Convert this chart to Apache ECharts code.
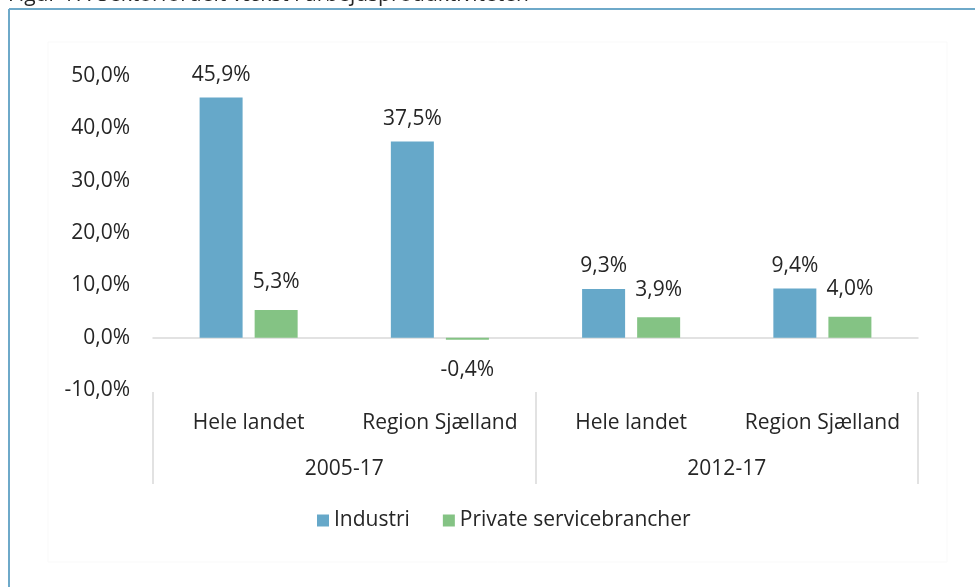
<!DOCTYPE html>
<html><head><meta charset="utf-8">
<script src="https://cdn.jsdelivr.net/npm/echarts@6/dist/echarts.min.js"></script>
<style>html,body{margin:0;padding:0;background:#fff}#c{width:975px;height:587px}</style>
</head><body><div id="c"></div>
<script>
const titleText = "Figur 17. Sektorfordelt vækst i arbejdsproduktiviteten";
const regions = ["Hele landet", "Region Sjælland", "Hele landet", "Region Sjælland"];
const periods = ["2005-17", "2012-17"];
const seriesNames = ["Industri", "Private servicebrancher"];
const industri = [45.9, 37.5, 9.3, 9.4];
const service = [5.3, -0.4, 3.9, 4.0];
const yTicks = [-10, 0, 10, 20, 30, 40, 50];

const FONT = "'Open Sans', 'DejaVu Sans', sans-serif";
const TXT = '#262626';
const FS = 21;
const fmt = v => v.toFixed(1).replace('.', ',') + '%';

const chart = echarts.init(document.getElementById('c'), null, {renderer: 'canvas'});
const mk = (arr) => arr.map(v => ({value: v, label: {position: v < 0 ? 'bottom' : 'top', distance: v < 0 ? 20 : undefined}}));
chart.setOption({
  animation: false,
  textStyle: {fontFamily: FONT},
  graphic: [
    {type: 'text', x: 8, y: 6, style: {text: titleText, font: "21px " + FONT, fill: TXT, verticalAlign: 'bottom', align: 'left'}},
    {type: 'line', shape: {x1: 9, y1: 9, x2: 975, y2: 9}, style: {stroke: '#6ea9c9', lineWidth: 2}},
    {type: 'line', shape: {x1: 9, y1: 9, x2: 9, y2: 587}, style: {stroke: '#6ea9c9', lineWidth: 2}},
    {type: 'rect', shape: {x: 48, y: 42, width: 899, height: 520}, style: {fill: 'none', stroke: '#f9f9f9', lineWidth: 1}, z: -1}
  ],
  grid: {left: 153, right: 57, top: 76, bottom: 197, containLabel: false},
  legend: {
    data: seriesNames, top: 505, left: 312, itemWidth: 12, itemHeight: 12, itemGap: 33,
    icon: 'rect', textStyle: {fontSize: FS, color: TXT, fontFamily: FONT}
  },
  xAxis: [
    {type: 'category', data: regions, axisLine: {onZero: true, lineStyle: {color: '#d9d9d9', width: 1.5}},
     axisTick: {show: false}, axisLabel: {show: false}},
    {type: 'category', data: regions, position: 'bottom', axisLine: {show: false}, axisTick: {show: false},
     axisLabel: {interval: 0, margin: 23, fontSize: FS, color: TXT, fontFamily: FONT}},
    {type: 'category', data: periods, position: 'bottom', offset: 2, axisLine: {show: false},
     axisTick: {show: true, length: 92, lineStyle: {color: '#d9d9d9', width: 1.5}},
     axisLabel: {interval: 0, margin: 67, fontSize: FS, color: TXT, fontFamily: FONT}}
  ],
  yAxis: {
    type: 'value', min: -10, max: 50, interval: 10,
    splitLine: {show: false}, axisLine: {show: false}, axisTick: {show: false},
    axisLabel: {margin: 23, fontSize: FS, color: TXT, fontFamily: FONT, formatter: v => fmt(v)}
  },
  series: [
    {name: seriesNames[0], type: 'bar', data: mk(industri), xAxisIndex: 0, barWidth: 43, barGap: '28%',
     itemStyle: {color: '#66a8c9'},
     label: {show: true, distance: 12, fontSize: FS, color: TXT, fontFamily: FONT, formatter: p => fmt(p.value)}},
    {name: seriesNames[1], type: 'bar', data: mk(service), xAxisIndex: 0, barWidth: 43, barGap: '28%',
     itemStyle: {color: '#84c384'},
     label: {show: true, distance: 17, fontSize: FS, color: TXT, fontFamily: FONT, formatter: p => fmt(p.value)}}
  ]
});
</script></body></html>
